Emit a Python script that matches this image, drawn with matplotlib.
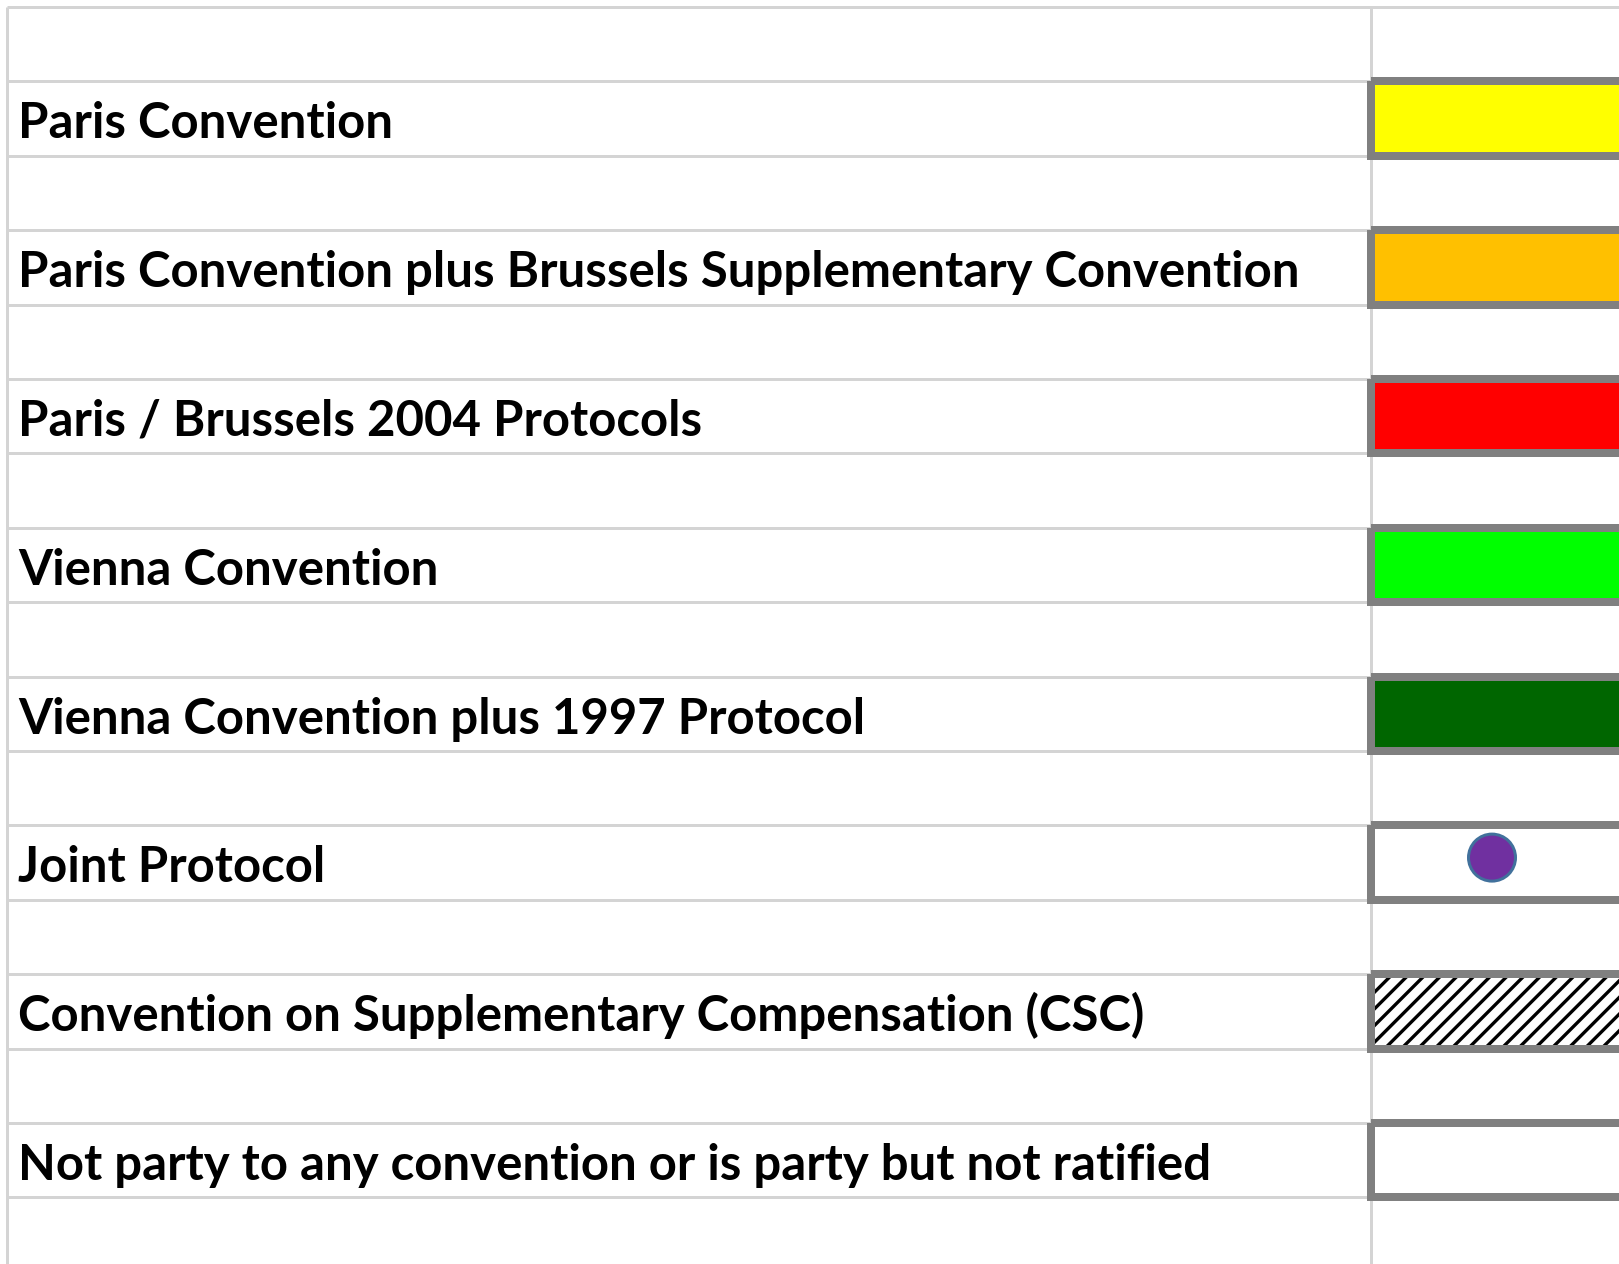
import matplotlib
matplotlib.use("Agg")
import matplotlib.pyplot as plt
from matplotlib.patches import Rectangle, Circle

# Légende : libellés et couleurs des cases
labels = [
    "Paris Convention",
    "Paris Convention plus Brussels Supplementary Convention",
    "Paris / Brussels 2004 Protocols",
    "Vienna Convention",
    "Vienna Convention plus 1997 Protocol",
    "Joint Protocol",
    "Convention on Supplementary Compensation (CSC)",
    "Not party to any convention or is party but not ratified",
]
fills = ["#FFFF00", "#FFC000", "#FF0000", "#00FF00", "#006600",
         "white", "white", "white"]
marker_row = 5      # Joint Protocol : rond violet
hatch_row = 6       # CSC : hachures

W, H = 1619, 1264
GRID = "#D4D4D4"
BORD = "#808080"
PT = 0.72           # 1 px en points (dpi 100)

top0, row_h = 7, 74.4
col_x, left_x = 1371, 7
n_rows = 17

plt.rcParams["hatch.linewidth"] = 2.4

fig = plt.figure(figsize=(W / 100, H / 100), dpi=100)
ax = fig.add_axes([0, 0, 1, 1])
ax.set_xlim(0, W)
ax.set_ylim(H, 0)
ax.axis("off")

# quadrillage façon tableur
for k in range(n_rows):
    ax.plot([left_x, W], [top0 + k * row_h] * 2, color=GRID, lw=3 * PT,
            solid_capstyle="butt", zorder=1)
for x in (left_x, col_x):
    ax.plot([x, x], [top0, H], color=GRID, lw=3 * PT,
            solid_capstyle="butt", zorder=1)

texts = []
for i, (lab, col) in enumerate(zip(labels, fills)):
    top = top0 + (2 * i + 1) * row_h
    t = ax.text(18, top + 57, lab, fontsize=30, fontweight="bold",
                family="Lato", color="black", va="baseline", ha="left",
                zorder=5)
    texts.append(t)
    ax.add_patch(Rectangle((col_x, top), 400, row_h, facecolor=col,
                           edgecolor="none", zorder=2))
    if i == hatch_row:
        # hachures noires, sous le cadre gris
        ax.add_patch(Rectangle((col_x, top), 400, row_h, facecolor="none",
                               edgecolor="black", lw=0, hatch="//",
                               zorder=2.5))
    ax.add_patch(Rectangle((col_x, top), 400, row_h, facecolor="none",
                           edgecolor=BORD, lw=8 * PT, zorder=3))
    if i == marker_row:
        ax.add_patch(Circle((1492, top + row_h / 2 - 5), 23.5,
                            facecolor="#7030A0", edgecolor="#41719C",
                            lw=3 * PT, zorder=4))

# ajuste la taille de police pour que le libellé le plus long finisse vers x=1297
r = fig.canvas.get_renderer()
w = texts[1].get_window_extent(r).width
scale = 1279 / w
for t in texts:
    t.set_fontsize(30 * scale)

fig.savefig("out.png", dpi=100, facecolor="white")
